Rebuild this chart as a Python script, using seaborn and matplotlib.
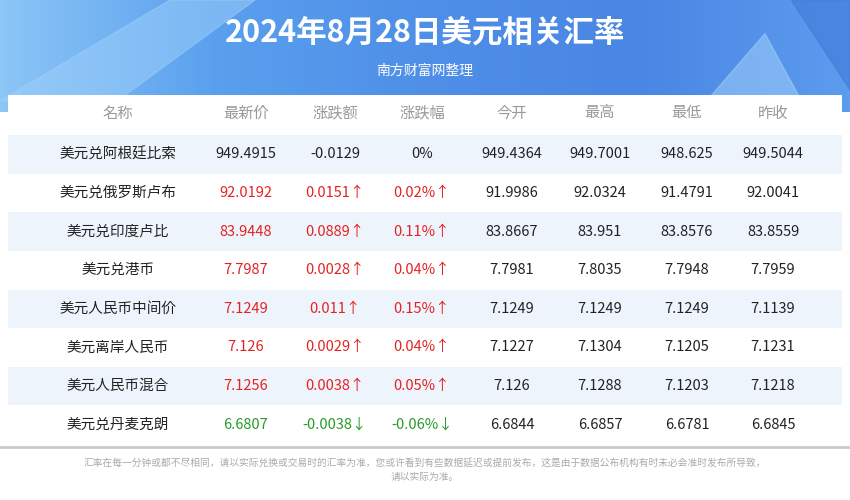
import numpy as np
import pandas as pd
import seaborn as sns
import matplotlib
matplotlib.use("Agg")
import matplotlib.pyplot as plt
from matplotlib.patches import FancyBboxPatch, Polygon
from matplotlib.colors import LinearSegmentedColormap

FONT = ["Noto Sans CJK JP", "Noto Sans SC", "DejaVu Sans"]
plt.rcParams["font.family"] = FONT

title = "2024年8月28日美元相关汇率"
subtitle = "南方财富网整理"
columns = ["名称", "最新价", "涨跌额", "涨跌幅", "今开", "最高", "最低", "昨收"]
names = ["美元兑阿根廷比索", "美元兑俄罗斯卢布", "美元兑印度卢比", "美元兑港币",
         "美元人民币中间价", "美元离岸人民币", "美元人民币混合", "美元兑丹麦克朗"]
latest = ["949.4915", "92.0192", "83.9448", "7.7987", "7.1249", "7.126", "7.1256", "6.6807"]
change = ["-0.0129", "0.0151", "0.0889", "0.0028", "0.011", "0.0029", "0.0038", "-0.0038"]
change_pct = ["0%", "0.02%", "0.11%", "0.04%", "0.15%", "0.04%", "0.05%", "-0.06%"]
open_ = ["949.4364", "91.9986", "83.8667", "7.7981", "7.1249", "7.1227", "7.126", "6.6844"]
high = ["949.7001", "92.0324", "83.951", "7.8035", "7.1249", "7.1304", "7.1288", "6.6857"]
low = ["948.625", "91.4791", "83.8576", "7.7948", "7.1249", "7.1205", "7.1203", "6.6781"]
prev = ["949.5044", "92.0041", "83.8559", "7.7959", "7.1139", "7.1231", "7.1218", "6.6845"]
footer = ["汇率在每一分钟或都不尽相同，请以实际兑换或交易时的汇率为准，您或许看到有些数据延迟或提前发布，这是由于数据公布机构有时未必会准时发布所导致，",
          "请以实际为准。"]

W, H = 850, 500
fig = plt.figure(figsize=(8.5, 5), dpi=100)
fig.patch.set_facecolor("white")

bg = fig.add_axes([0, 1 - 112 / H, 1, 112 / H])
grad = np.linspace(0, 1, 256)[None, :]
cm = LinearSegmentedColormap.from_list("b", ["#8cc6f7", "#5aa0ee", "#4f8fe8", "#4a86e4", "#5c9cee"])
bg.imshow(grad, aspect="auto", cmap=cm, extent=[0, 1, 0, 1])
bg.add_patch(Polygon([[0.0, 0.1], [0.2, 1], [0.3, 1], [0.12, 0.0]], color="#9fd0fa", alpha=0.5))
bg.add_patch(Polygon([[0.82, 0.0], [0.9, 0.7], [0.95, 0.0]], color="#a8d4fa", alpha=0.5))
bg.add_patch(Polygon([[0.93, 1], [1.0, 1], [1.0, 0.2]], color="#3f7ad8", alpha=0.6))
bg.set_xlim(0, 1); bg.set_ylim(0, 1); bg.axis("off")

fig.text(0.5, 1 - 33 / H, title, ha="center", va="center", color="white",
         fontsize=22, fontweight="bold")
fig.text(0.5, 1 - 71 / H, subtitle, ha="center", va="center", color="white", fontsize=10)

card = fig.add_axes([8 / W, 1 - 447 / H, 834 / W, (447 - 95) / H])
card.set_xlim(0, 1); card.set_ylim(0, 1); card.axis("off")
card.add_patch(FancyBboxPatch((0, 0), 1, 1.05, boxstyle="round,pad=0,rounding_size=0.015",
                              facecolor="white", edgecolor="none", mutation_aspect=2.4))

n = len(names)
stripe = pd.DataFrame({"s": [1 if i % 2 == 0 else 0 for i in range(n)]})
ax = fig.add_axes([8 / W, 1 - 444 / H, 834 / W, (444 - 135) / H])
sns.heatmap(stripe, ax=ax, cmap=["#ffffff", "#eef4fc"], cbar=False,
            linewidths=0, xticklabels=False, yticklabels=False)
ax.set_xlim(0, 1)

colx = [118, 246, 335, 422, 512, 600, 687, 773]
for c, x in zip(columns, colx):
    fig.text(x / W, 1 - 113 / H, c, ha="center", va="center", color="#999999", fontsize=11)

red, green, black = "#e52222", "#279a2a", "#222222"
for i in range(n):
    y = i + 0.5
    p = change_pct[i]
    up = not p.startswith("-") and p != "0%"
    down = p.startswith("-")
    col = red if up else (green if down else black)
    arrow = "↑" if up else ("↓" if down else "")
    vals = [(names[i], black), (latest[i], col), (change[i] + arrow, col),
            (change_pct[i] + arrow, col), (open_[i], black), (high[i], black),
            (low[i], black), (prev[i], black)]
    for (t, c), x in zip(vals, colx):
        ax.text((x - 8) / 834, y, t, ha="center", va="center", color=c, fontsize=10.5)

fig.add_artist(plt.Line2D([0, 1], [1 - 447 / H] * 2, color="#c8cad0", lw=2))
fig.text(0.5, 1 - 463 / H, footer[0], ha="center", va="center", color="#aaaaaa", fontsize=7)
fig.text(0.5, 1 - 477 / H, footer[1], ha="center", va="center", color="#aaaaaa", fontsize=7)

fig.savefig("out.png", dpi=100)
